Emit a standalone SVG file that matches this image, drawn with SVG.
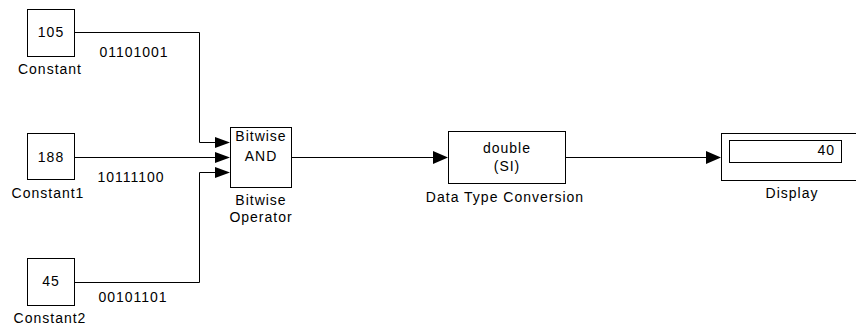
<svg xmlns="http://www.w3.org/2000/svg" width="856" height="325" viewBox="0 0 856 325">
<style>
.blk{fill:#fff;stroke:#000;stroke-width:1}
.w{fill:none;stroke:#000;stroke-width:1}
.ah{fill:#000;stroke:none}
text{font-family:"Liberation Sans",Arial,sans-serif;font-size:14px;letter-spacing:1px;fill:#000}
.m{text-anchor:middle}
</style>
<rect width="856" height="325" fill="#fff"/>
<g id="connectors">
<polyline class="w" points="74,32.5 199.5,32.5 199.5,142.5 216,142.5"/>
<polyline class="w" points="74,157.5 216,157.5"/>
<polyline class="w" points="74,282.5 199.5,282.5 199.5,172.5 216,172.5"/>
<polygon class="ah" points="215,137 230,142.5 215,148"/>
<polygon class="ah" points="215,152 230,157.5 215,163"/>
<polygon class="ah" points="215,167 230,172.5 215,178"/>
<polyline class="w" points="292,157.5 434,157.5"/>
<polygon class="ah" points="433,151 448,157.5 433,164"/>
<polyline class="w" points="566,157.5 707,157.5"/>
<polygon class="ah" points="706,151 721,157.5 706,164"/>
<text class="m" x="134" y="57">01101001</text>
<text class="m" x="131" y="182">10111100</text>
<text class="m" x="133" y="302">00101101</text>
</g>
<g id="constant">
<rect class="blk" x="27.5" y="9.5" width="47" height="47"/>
<text class="m" x="51" y="37">105</text>
<text class="m" x="50" y="74">Constant</text>
</g>
<g id="constant1">
<rect class="blk" x="27.5" y="133.5" width="47" height="46"/>
<text class="m" x="51" y="162">188</text>
<text class="m" x="48" y="198">Constant1</text>
</g>
<g id="constant2">
<rect class="blk" x="27.5" y="258.5" width="47" height="47"/>
<text class="m" x="51" y="286">45</text>
<text class="m" x="50" y="323">Constant2</text>
</g>
<g id="bitwise">
<rect class="blk" x="230.5" y="127.5" width="61" height="60"/>
<text class="m" x="261" y="141">Bitwise</text>
<text class="m" x="261" y="161">AND</text>
<text class="m" x="261" y="205">Bitwise</text>
<text class="m" x="261" y="222">Operator</text>
</g>
<g id="dtc">
<rect class="blk" x="448.5" y="131.5" width="117" height="52"/>
<text class="m" x="507" y="153">double</text>
<text class="m" x="507" y="171">(SI)</text>
<text class="m" x="505" y="202">Data Type Conversion</text>
</g>
<g id="display">
<rect class="blk" x="721.5" y="133.5" width="140" height="47" stroke-width="1.5"/>
<rect class="blk" x="729.5" y="140.5" width="112" height="22"/>
<text x="835" y="155" text-anchor="end">40</text>
<text class="m" x="792" y="198">Display</text>
</g>
</svg>
